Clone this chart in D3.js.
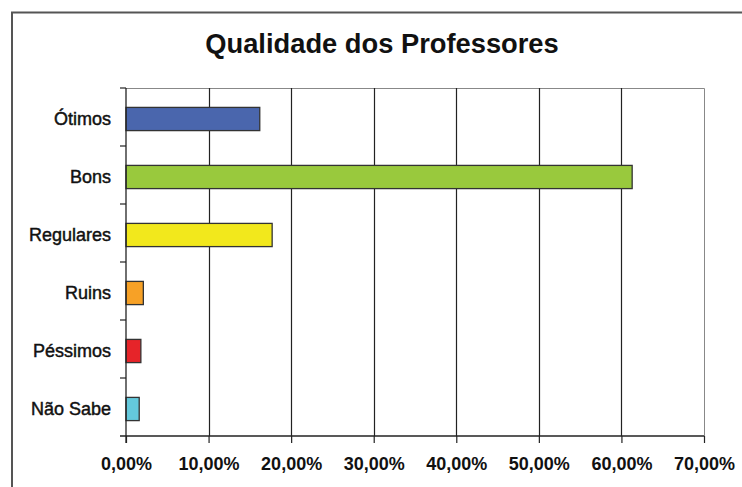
<!DOCTYPE html>
<html><head><meta charset="utf-8">
<script src="https://cdn.jsdelivr.net/npm/d3@7"></script>
<style>body{margin:0;background:#fff}svg{display:block}</style>
</head><body>
<script>
const title = "Qualidade dos Professores";
const categories = ["Ótimos","Bons","Regulares","Ruins","Péssimos","Não Sabe"];
const values = [16.2, 61.3, 17.7, 2.1, 1.8, 1.6];
const colors = ["#4a66ad","#99c93d","#f2e81c","#f7a126","#e62429","#64c9dc"];
const xTicks = [0,10,20,30,40,50,60,70];

const W=742,H=487;
const svg=d3.select("body").append("svg").attr("width",W).attr("height",H);
const m={left:126,right:704,top:88,bottom:436};

// outer frame
svg.append("path").attr("d",`M12,${H+5}V12.5H${W+5}`).attr("fill","none").attr("stroke","#555").attr("stroke-width",2);

svg.append("text").attr("x",382).attr("y",53).attr("text-anchor","middle")
  .attr("font-family","Liberation Sans, Arial, sans-serif").attr("font-weight","bold")
  .attr("font-size",27.3).attr("fill","#111").text(title);

const x=d3.scaleLinear().domain([0,70]).range([m.left,m.right]);
const y=d3.scaleBand().domain(categories).range([m.top,m.bottom]).paddingInner(0.6).paddingOuter(0.3);

// plot border (top/right)
svg.append("path").attr("d",`M${m.left},${m.top+0.5}H${m.right+0.5}V${m.bottom}`).attr("fill","none").attr("stroke","#888").attr("stroke-width",1);

// gridlines
svg.append("g").selectAll("line").data(xTicks.slice(1,-1)).join("line")
  .attr("x1",d=>Math.round(x(d))+0.5).attr("x2",d=>Math.round(x(d))+0.5)
  .attr("y1",m.top).attr("y2",m.bottom).attr("stroke","#222").attr("stroke-width",1.2);

// bars
svg.append("g").selectAll("rect").data(categories).join("rect")
  .attr("x",x(0)).attr("y",(d)=>y(d)+2).attr("height",y.bandwidth())
  .attr("width",(d,i)=>x(values[i])-x(0))
  .attr("fill",(d,i)=>colors[i]).attr("stroke","#333").attr("stroke-width",1.3);

// x axis
const xa=svg.append("g").attr("transform",`translate(0,${m.bottom})`)
  .call(d3.axisBottom(x).tickValues(xTicks).tickSize(7).tickPadding(12)
    .tickFormat(d=>d.toFixed(2).replace(".",",")+"%"));
xa.select(".domain").remove();
xa.append("line").attr("x1",m.left-6).attr("x2",m.right).attr("stroke","#222").attr("stroke-width",1.3);
xa.selectAll(".tick line").attr("stroke","#222").attr("stroke-width",1.2);
xa.selectAll("text").attr("font-family","Liberation Sans, Arial, sans-serif").attr("font-weight","bold")
  .attr("font-size",18).attr("fill","#111").attr("dy","0.85em");

// y axis
const yg=svg.append("g");
yg.append("line").attr("x1",m.left).attr("x2",m.left).attr("y1",m.top).attr("y2",m.bottom+7).attr("stroke","#222").attr("stroke-width",1.3);
const step=(m.bottom-m.top)/categories.length;
yg.selectAll(".bt").data(d3.range(categories.length)).join("line").attr("class","bt")
  .attr("x1",m.left-6).attr("x2",m.left).attr("y1",i=>m.top+i*step).attr("y2",i=>m.top+i*step)
  .attr("stroke","#222").attr("stroke-width",1.2);
yg.selectAll("text").data(categories).join("text")
  .attr("x",m.left-15).attr("y",d=>y(d)+y.bandwidth()/2+2).attr("dy","0.35em").attr("text-anchor","end")
  .attr("font-family","Liberation Sans, Arial, sans-serif").attr("font-size",18).attr("fill","#111")
  .attr("stroke","#111").attr("stroke-width",0.45).text(d=>d);
</script>
</body></html>
